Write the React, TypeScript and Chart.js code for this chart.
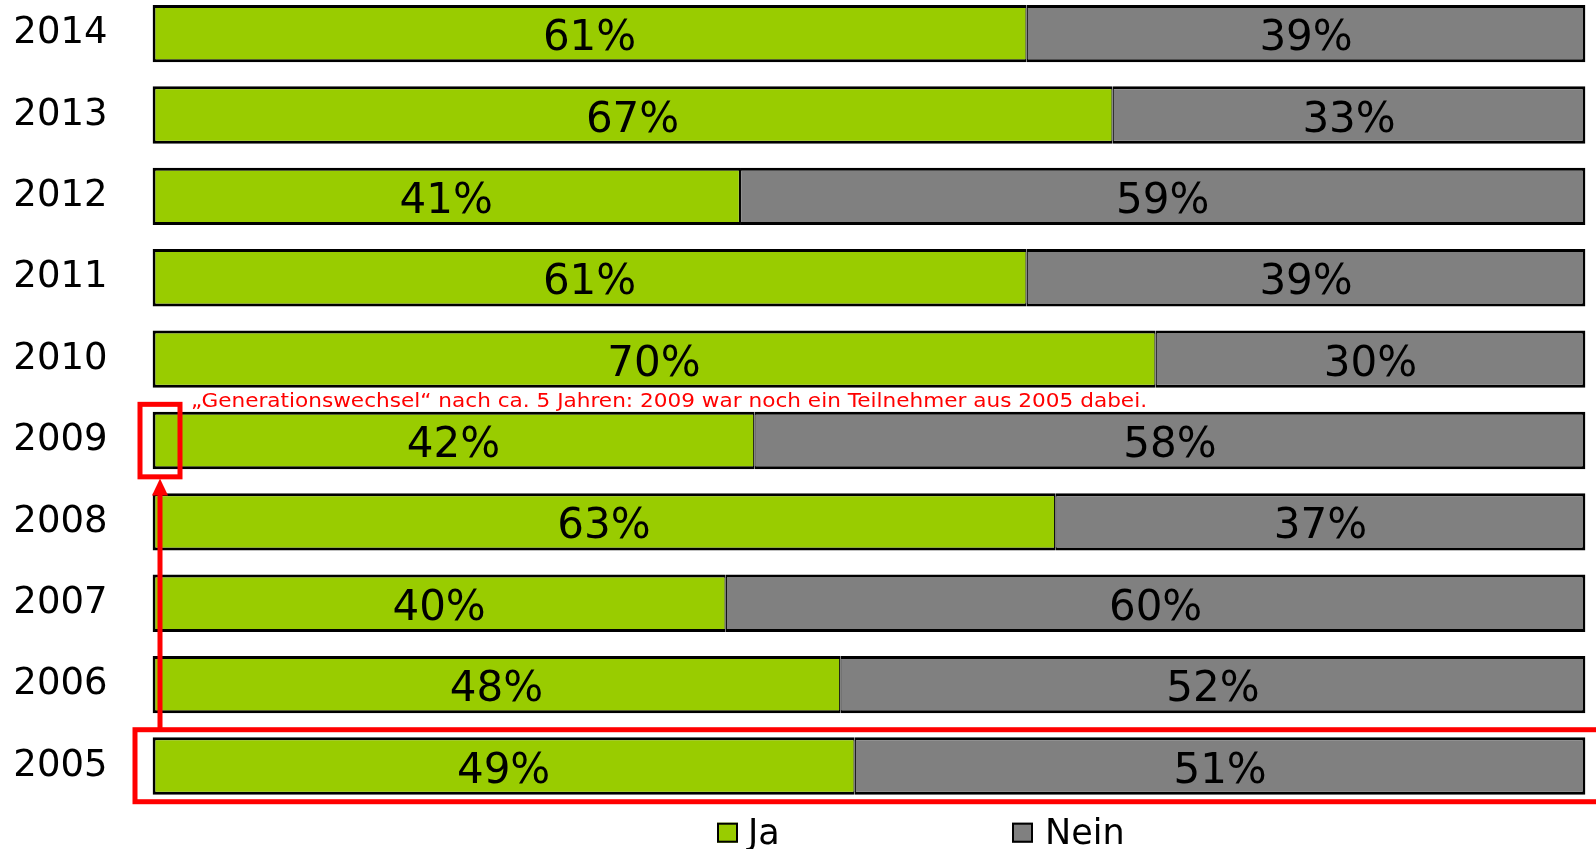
import React, { useEffect, useRef } from "react";
import { Chart, registerables } from "chart.js";

Chart.register(...registerables);

const YEARS = ["2014", "2013", "2012", "2011", "2010", "2009", "2008", "2007", "2006", "2005"];
const JA = [61, 67, 41, 61, 70, 42, 63, 40, 48, 49];
const NEIN = [39, 33, 59, 39, 30, 58, 37, 60, 52, 51];
const SERIES_LABELS = ["Ja", "Nein"];
const COLORS = ["#99CC00", "#808080"];
const NOTE = "\u201EGenerationswechsel\u201C nach ca. 5 Jahren: 2009 war noch ein Teilnehmer aus 2005 dabei.";

const FONT = "'DejaVu Sans', Verdana, sans-serif";

const overlayPlugin = {
  id: "overlay",
  afterDatasetsDraw(chart: any) {
    const { ctx } = chart;
    const xs = chart.scales.x;
    const ys = chart.scales.y;
    ctx.save();
    // value labels
    ctx.font = `42px ${FONT}`;
    ctx.fillStyle = "#000";
    ctx.textAlign = "center";
    ctx.textBaseline = "alphabetic";
    chart.data.datasets.forEach((ds: any, di: number) => {
      const meta = chart.getDatasetMeta(di);
      meta.data.forEach((bar: any, i: number) => {
        const p = bar.getProps(["x", "y", "base"], true);
        const cx = (p.x + p.base) / 2;
        ctx.fillText(ds.data[i] + "%", cx, p.y + 16.5);
      });
    });

    // red annotations
    const x0 = xs.getPixelForValue(0);
    const y05 = ys.getPixelForValue(YEARS.indexOf("2005"));
    const y09 = ys.getPixelForValue(YEARS.indexOf("2009"));
    ctx.strokeStyle = "#FF0000";
    ctx.fillStyle = "#FF0000";
    ctx.lineWidth = 5;
    // big rect around 2005
    ctx.strokeRect(x0 - 17.5, y05 - 36.3, chart.width + 20 - (x0 - 17.5), 72);
    // small box at start of 2009
    ctx.strokeRect(x0 - 12.5, y09 - 36.2, 40, 72.5);
    // arrow
    const ax = x0 + 7.5;
    ctx.beginPath();
    ctx.moveTo(ax, y05 - 36.3);
    ctx.lineTo(ax, y09 + 52);
    ctx.stroke();
    ctx.beginPath();
    ctx.moveTo(ax, y09 + 38);
    ctx.lineTo(ax - 8, y09 + 55);
    ctx.lineTo(ax + 8, y09 + 55);
    ctx.closePath();
    ctx.fill();
    // note text (stretched horizontally to the reference's text width)
    ctx.font = `20px ${FONT}`;
    ctx.textAlign = "left";
    const tw = ctx.measureText(NOTE).width;
    const targetW = 956;
    ctx.save();
    ctx.translate(x0 + 38.5, y09 - 33.5);
    ctx.scale(targetW / tw, 1);
    ctx.fillText(NOTE, 0, 0);
    ctx.restore();

    // legend
    const legendY = chart.chartArea.bottom + 26;
    const items = [
      { x: 717, tx: 748 },
      { x: 1012, tx: 1045 },
    ];
    chart.data.datasets.forEach((ds: any, di: number) => {
      const it = items[di];
      ctx.fillStyle = ds.backgroundColor;
      ctx.fillRect(it.x, legendY - 10, 21, 20);
      ctx.strokeStyle = "#000";
      ctx.lineWidth = 2;
      ctx.strokeRect(it.x + 1, legendY - 9, 19, 18);
      ctx.fillStyle = "#000";
      ctx.font = `35px ${FONT}`;
      ctx.textAlign = "left";
      ctx.fillText(ds.label, it.tx, legendY + 11);
    });
    ctx.restore();
  },
};

export default function App() {
  const ref = useRef<HTMLCanvasElement | null>(null);
  useEffect(() => {
    if (!ref.current) return;
    const chart = new Chart(ref.current, {
      type: "bar",
      data: {
        labels: YEARS,
        datasets: [
          {
            label: SERIES_LABELS[0],
            data: JA,
            backgroundColor: COLORS[0],
            borderColor: "#000",
            borderWidth: { left: 3, top: 3, bottom: 3, right: 1.25 },
            borderSkipped: false,
            categoryPercentage: 1,
            barPercentage: 0.705,
          },
          {
            label: SERIES_LABELS[1],
            data: NEIN,
            backgroundColor: COLORS[1],
            borderColor: "#000",
            borderWidth: { left: 1.25, top: 3, bottom: 3, right: 3 },
            borderSkipped: false,
            categoryPercentage: 1,
            barPercentage: 0.705,
          },
        ],
      },
      options: {
        indexAxis: "y",
        responsive: false,
        animation: false,
        layout: { padding: { left: 0, right: 10.5, top: 0, bottom: 42.3 } },
        plugins: { legend: { display: false }, tooltip: { enabled: false } },
        scales: {
          x: { stacked: true, min: 0, max: 100, display: false },
          y: {
            stacked: true,
            grid: { display: false, drawTicks: false },
            border: { display: false },
            ticks: {
              color: "#000",
              padding: 45,
              font: { family: FONT, size: 37 },
            },
            afterFit: (scale: any) => {
              scale.width = 152.5;
              scale.paddingTop = 0;
              scale.paddingBottom = 0;
            },
          },
        },
      },
      plugins: [overlayPlugin],
    } as any);
    return () => chart.destroy();
  }, []);
  return (
    <div style={{ position: "absolute", left: 0, top: -7, width: 1596, height: 856 }}>
      <canvas ref={ref} width={1596} height={856} style={{ display: "block" }} />
    </div>
  );
}
